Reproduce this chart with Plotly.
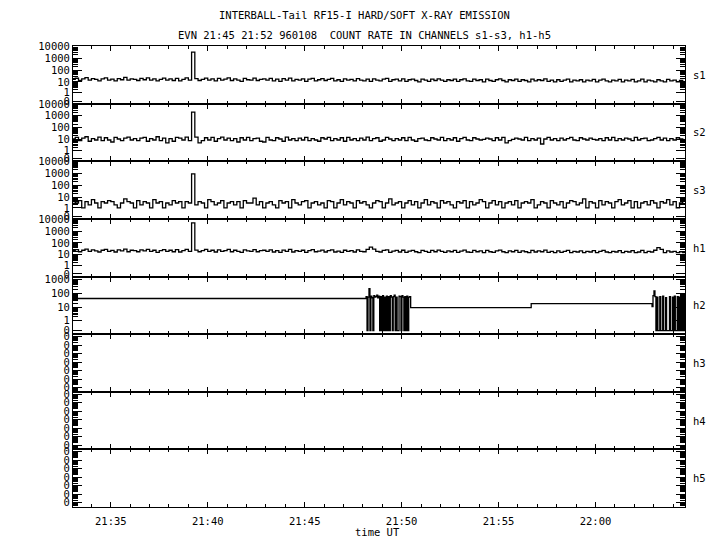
import numpy as np
import pandas as pd
import plotly.graph_objects as go
from plotly.subplots import make_subplots

# ---------------- data ----------------
T0 = pd.Timestamp("1996-01-08 21:33:00")
STEP_S = 10  # sampling step of the s1-s3, h1 channels (seconds)
OFFSET = 0.25  # zero counts are drawn at this level on the log axes

S1 = [16,21,13,18,23,14,19,16,12,18, 22,14,17,12,19,15,24,14,18,16,
      13,20,15,22,14,18,12,16,21,14, 18,13,20,12,16,22,14,3200,19,13,
      16,21,14,18,12,20,14,17,22,13, 18,14,11,20,15,14,21,13,16,18,
      14,20,12,17,11,19,14,21,12,16, 14,18,11,17,20,12,15,19,13,16,
      20,12,15,11,18,14,16,12,19,14, 12,17,11,18,14,12,17,20,11,15,
      17,12,18,11,15,17,13,10,17,14, 11,17,13,18,14,11,15,13,17,11,
      15,18,12,11,17,13,15,10,17,13, 11,15,18,13,10,15,13,17,11,15,
      13,10,17,12,15,13,18,11,14,10, 15,11,14,17,10,14,12,15,10,14,
      12,16,10,14,17,12,10,14,12,16, 10,14,12,16,10,12,17,10,14,12,
      10,15,12,10,16,12,14,10,13,10,14]

S2 = [11,15,8,13,17,7,12,9,16,8, 14,9,6,15,11,8,13,16,9,12,
      8,13,15,7,12,9,17,8,13,5, 12,7,15,13,9,16,8,2000,16,5,
      8,14,9,15,7,12,16,9,13,8, 12,6,14,9,15,8,12,13,7,6,
      15,9,8,14,11,7,16,9,12,8, 13,9,15,8,12,9,7,14,11,15,
      8,12,9,14,7,15,9,12,8,13, 9,16,8,12,14,7,9,15,11,8,
      12,9,14,8,15,9,7,12,13,9, 8,14,11,9,15,8,12,9,14,7,
      12,15,9,8,14,11,9,10,13,11, 8,14,9,15,5,8,10,13,11,9,
      15,8,12,9,13,4,11,15,9,12, 8,13,9,12,15,9,8,14,11,9,
      13,10,9,12,8,14,9,15,8,12, 9,13,11,8,15,9,12,13,8,9,
      12,15,9,13,8,12,9,14,11,8,12]

S3 = [4,3,5,1,4,2,6,3,1,4, 3,5,4,2,1,3,7,4,3,1,
      5,2,4,3,1,6,3,4,1,3, 2,5,3,4,1,4,3,900,2,4,
      3,1,6,4,2,3,5,1,3,4, 2,4,1,5,3,3,8,2,4,1,
      3,4,2,1,5,3,4,1,6,3, 2,4,5,1,3,4,2,3,1,5,
      4,1,3,6,2,4,3,1,5,3, 4,2,1,3,5,4,1,3,7,2,
      3,4,1,3,5,2,4,1,3,6, 2,4,3,1,5,3,4,2,1,4,
      3,5,1,4,2,3,6,4,1,3, 5,2,4,1,3,4,2,5,1,3,
      4,3,6,1,2,4,3,1,5,3, 2,4,1,3,5,4,2,3,7,1,
      4,3,1,5,2,4,3,1,4,6, 2,3,5,1,4,1,3,4,2,5,
      3,1,4,3,6,2,4,1,3,5,3]

H1 = [22,27,18,24,30,19,26,21,17,24, 28,19,23,17,26,21,30,18,24,22,
      18,26,21,29,19,24,16,22,27,19, 24,18,27,17,22,28,19,4800,25,18,
      22,28,19,24,17,26,19,22,29,18, 24,19,16,26,21,19,27,18,22,24,
      19,26,17,22,16,25,19,28,17,22, 19,24,16,22,27,18,20,25,17,22,
      26,17,20,16,24,19,22,17,26,19, 18,28,45,30,19,17,23,26,16,20,
      23,17,24,16,20,23,18,15,23,19, 16,23,18,25,19,16,21,18,23,16,
      20,25,17,16,23,18,21,15,23,18, 16,21,25,18,15,21,18,23,16,21,
      18,15,23,17,21,18,25,16,19,15, 21,16,19,23,15,19,17,21,15,19,
      17,22,15,19,23,17,15,19,17,22, 15,19,17,22,15,17,23,15,19,17,
      24,40,28,15,21,17,19,15,18,15,19]

# h2: irregular samples, seconds after 21:33:00
H2_SEC = [0,
          910,913,916,919,922,925,928,931,934,937,940,943,946,949,952,955,
          958,961,964,967,970,973,976,979,982,985,988,991,994,997,1000,1003,
          1006,1009,1012,1015,1018,1021,1024,1027,1030,1033,1036,1039,1042,1045,
          1048, 1421,
          1795,1798,1801,1804,1807,1810,1813,1816,1819,1822,1825,1828,1831,1834,
          1837,1840,1843,1846,1849,1852,1855,1858,1861,1864,1867,1870,1873,1876,
          1879,1882,1885,1888,1891,1894,1897,1900]
H2 = [44,
      60,0,55,220,0,65,50,0,70,55,60,75,50,65,0,60,
      0,70,0,55,0,65,0,60,0,70,55,0,60,75,0,55,
      0,0,65,60,0,70,55,0,60,0,65,0,55,60,
      10, 19,
      12,70,150,60,0,55,0,0,60,0,0,65,0,0,
      50,0,0,0,60,0,0,55,0,65,0,0,60,0,
      55,0,70,0,60,0,55,60]

# empty channels
EMPTY_SEC = [0, 1900]
H3 = [0, 0]
H4 = [0, 0]
H5 = [0, 0]

CHANNELS = ["s1", "s2", "s3", "h1", "h2", "h3", "h4", "h5"]
COUNT_TICKS = [0, 1, 10, 100, 1000, 10000]
H2_TICKS = [0, 1, 10, 100, 1000]
EMPTY_TICK_EXP = [-7, -6, -5, -4, -3, -2, -1]

X_RANGE = ["1996-01-08 21:33:03", "1996-01-08 22:04:37"]

# ---------------- figure ----------------
FONT = dict(family="DejaVu Sans Mono", size=10.5, color="black")

reg_times = T0 + pd.to_timedelta(np.arange(len(S1)) * STEP_S, unit="s")
h2_times = T0 + pd.to_timedelta(np.array(H2_SEC), unit="s")
empty_times = T0 + pd.to_timedelta(np.array(EMPTY_SEC), unit="s")

series = [
    (reg_times, S1), (reg_times, S2), (reg_times, S3), (reg_times, H1),
    (h2_times, H2), (empty_times, H3), (empty_times, H4), (empty_times, H5),
]

fig = make_subplots(rows=8, cols=1, shared_xaxes=True, vertical_spacing=0)

for i, (t, vals) in enumerate(series):
    fig.add_trace(
        go.Scatter(
            x=t, y=np.array(vals, dtype=float) + OFFSET, mode="lines",
            line=dict(color="black", width=1.3, shape="hv"),
            showlegend=False, hoverinfo="skip",
        ),
        row=i + 1, col=1,
    )

def minor_vals(decades):
    return [k * 10.0 ** d + OFFSET for d in decades for k in range(2, 10)]

axis_common = dict(
    type="log", showgrid=False, zeroline=False, showline=True,
    linecolor="black", linewidth=1, mirror="ticks", ticks="inside",
    ticklen=9, tickcolor="black", tickwidth=1, tickfont=FONT,
)

for i in range(8):
    r = i + 1
    if i < 4:
        fig.update_yaxes(
            range=[-0.82, 4.02],
            tickmode="array",
            tickvals=[v + OFFSET for v in COUNT_TICKS],
            ticktext=[str(v) for v in COUNT_TICKS],
            minor=dict(tickmode="array", tickvals=minor_vals(range(0, 4)),
                       ticks="inside", ticklen=5, tickcolor="black"),
            row=r, col=1, **axis_common,
        )
    elif i == 4:
        fig.update_yaxes(
            range=[-0.85, 3.19],
            tickmode="array",
            tickvals=[v + OFFSET for v in H2_TICKS],
            ticktext=[str(v) for v in H2_TICKS],
            minor=dict(tickmode="array", tickvals=minor_vals(range(0, 3)),
                       ticks="inside", ticklen=5, tickcolor="black"),
            row=r, col=1, **axis_common,
        )
    else:
        fig.update_yaxes(
            range=[-7.5, -0.72],
            tickmode="array",
            tickvals=[10.0 ** e for e in EMPTY_TICK_EXP],
            ticktext=["0"] * len(EMPTY_TICK_EXP),
            minor=dict(tickmode="array",
                       tickvals=[k * 10.0 ** e for e in range(-8, 0) for k in range(2, 10)],
                       ticks="inside", ticklen=5, tickcolor="black"),
            row=r, col=1, **axis_common,
        )

fig.update_xaxes(
    type="date", range=X_RANGE, showgrid=False, zeroline=False,
    showline=True, linecolor="black", linewidth=1, mirror="ticks",
    ticks="inside", ticklen=5, tickcolor="black",
    tick0="1996-01-08 21:35:00", dtick=300000, tickformat="%H:%M",
    minor=dict(dtick=60000, ticks="inside", ticklen=3, tickcolor="black"),
    tickfont=FONT,
)
fig.update_xaxes(ticklabelstandoff=4, row=8, col=1)

# channel labels
for i, name in enumerate(CHANNELS):
    yref = "y domain" if i == 0 else f"y{i + 1} domain"
    fig.add_annotation(x=1.0245, xref="paper", y=0.5, yref=yref, text=name,
                       showarrow=False, font=FONT, xanchor="center", yanchor="middle")

fig.add_annotation(x=0.477, xref="paper", y=1.067, yref="paper",
                   text="INTERBALL-Tail RF15-I HARD/SOFT X-RAY EMISSION",
                   showarrow=False, font=FONT, xanchor="center", yanchor="middle")
fig.add_annotation(x=0.477, xref="paper", y=1.024, yref="paper",
                   text="EVN 21:45 21:52 960108  COUNT RATE IN CHANNELS s1-s3, h1-h5",
                   showarrow=False, font=FONT, xanchor="center", yanchor="middle")
fig.add_annotation(x=0.498, xref="paper", y=-0.055, yref="paper",
                   text="time UT", showarrow=False, font=FONT,
                   xanchor="center", yanchor="middle")

# the page adds an 8px body margin, so the margins are reduced by that amount
fig.update_layout(
    width=720, height=550,
    margin=dict(l=65, r=43, t=38, b=51),
    paper_bgcolor="white", plot_bgcolor="white",
    font=FONT,
)

fig.write_html("out.html")
